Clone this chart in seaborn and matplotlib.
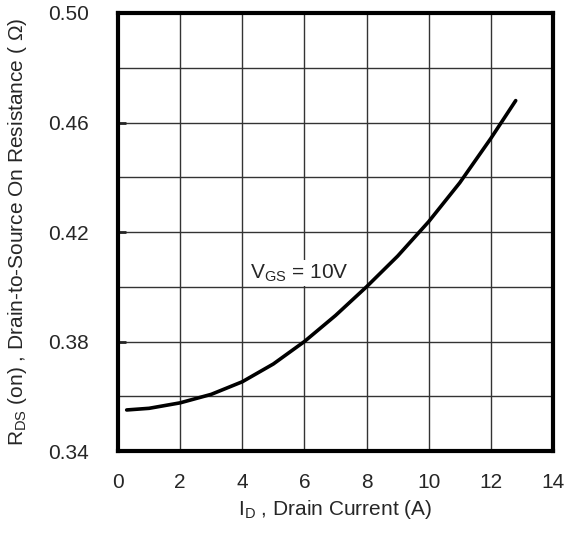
import matplotlib
matplotlib.use("Agg")
import matplotlib.pyplot as plt
import seaborn as sns
import pandas as pd

# On-resistance vs drain current at VGS = 10 V
drain_current = [0.28, 1.0, 2.0, 3.0, 4.0, 5.0, 6.0, 7.0, 8.0, 9.0, 10.0, 11.0, 12.0, 12.8]
rds_on = [0.3550, 0.3556, 0.3576, 0.3607, 0.3653, 0.3718, 0.3800, 0.3895, 0.4000, 0.4112, 0.4238, 0.4380, 0.4542, 0.4680]

x_ticks = [0, 2, 4, 6, 8, 10, 12, 14]
y_major = [0.34, 0.38, 0.42, 0.46, 0.50]
y_minor = [0.36, 0.40, 0.44, 0.48]

sns.set_style("white")
plt.rcParams["font.family"] = ["Liberation Sans", "DejaVu Sans"]
plt.rcParams["mathtext.fontset"] = "custom"
plt.rcParams["mathtext.rm"] = "Liberation Sans"

df = pd.DataFrame({"ID": drain_current, "RDS": rds_on})

fig = plt.figure(figsize=(5.67, 5.37), dpi=100)
ax = fig.add_axes([0.2081, 0.1601, 0.7672, 0.8157])

sns.lineplot(data=df, x="ID", y="RDS", ax=ax, color="black", linewidth=2.6,
             solid_capstyle="round", solid_joinstyle="round", sort=True, estimator=None)

ax.set_xlim(0, 14)
ax.set_ylim(0.34, 0.50)
ax.set_xticks(x_ticks)
ax.set_xticklabels([str(v) for v in x_ticks])
ax.set_yticks(y_major)
ax.set_yticklabels([f"{v:.2f}" for v in y_major])
ax.set_yticks(y_minor, minor=True)

ax.grid(True, which="both", color="#333333", linewidth=1.0)
ax.set_axisbelow(True)

for s in ax.spines.values():
    s.set_visible(True)
    s.set_color("black")
    s.set_linewidth(3.0)

fs = 15
ax.tick_params(axis="x", which="both", length=0, pad=16, labelsize=fs)
ax.tick_params(axis="y", which="major", direction="in", length=6, width=2,
               pad=21, labelsize=fs, left=True)
ax.tick_params(axis="y", which="minor", length=0)

ax.set_xlabel(r"I$_{\mathrm{D}}$ , Drain Current (A)", fontsize=fs, labelpad=4)
ax.set_ylabel(r"R$_{\mathrm{DS}}$ (on) , Drain-to-Source On Resistance ( Ω)",
              fontsize=fs, labelpad=14)

ax.text(4.25, 0.4050, r"V$_{\mathrm{GS}}$ = 10V", fontsize=fs, ha="left", va="center",
        bbox=dict(facecolor="white", edgecolor="none", pad=1.5), zorder=5)

fig.savefig("out.png", dpi=100)
